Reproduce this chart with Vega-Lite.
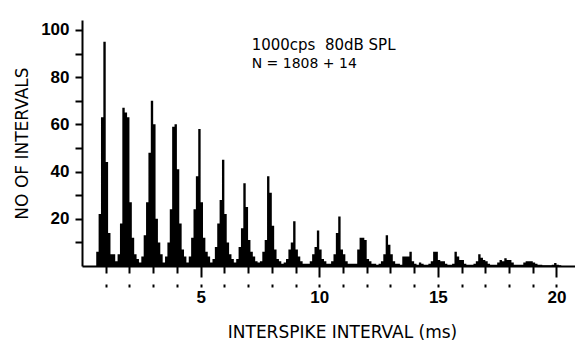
{
  "$schema": "https://vega.github.io/schema/vega-lite/v6.json",
  "width": 493,
  "height": 246,
  "autosize": {"type": "none"},
  "padding": {"left": 82, "top": 20, "right": 0, "bottom": 76},
  "background": "white",
  "config": {
    "view": {"stroke": null},
    "axis": {
      "grid": false,
      "domainColor": "black",
      "domainWidth": 2,
      "tickColor": "black",
      "tickWidth": 2,
      "labelColor": "black",
      "titleColor": "black",
      "labelFont": "Liberation Sans",
      "labelFontWeight": "bold",
      "labelFontSize": 17,
      "labelOverlap": false,
      "titleFont": "DejaVu Sans",
      "titleFontWeight": "normal",
      "titleFontSize": 17
    }
  },
  "data": {
    "values": [
      {"t": 0, "n": 0}, {"t": 0.6, "n": 6}, {"t": 0.7, "n": 22}, {"t": 0.8, "n": 63}, {"t": 0.9, "n": 95},
      {"t": 1.0, "n": 44}, {"t": 1.1, "n": 14}, {"t": 1.2, "n": 5}, {"t": 1.3, "n": 5}, {"t": 1.4, "n": 2},
      {"t": 1.5, "n": 5}, {"t": 1.6, "n": 18}, {"t": 1.7, "n": 67}, {"t": 1.8, "n": 65}, {"t": 1.9, "n": 63},
      {"t": 2.0, "n": 27}, {"t": 2.1, "n": 12}, {"t": 2.2, "n": 5}, {"t": 2.3, "n": 3}, {"t": 2.4, "n": 1.5},
      {"t": 2.5, "n": 4}, {"t": 2.6, "n": 13}, {"t": 2.7, "n": 27}, {"t": 2.8, "n": 48}, {"t": 2.9, "n": 70},
      {"t": 3.0, "n": 60}, {"t": 3.1, "n": 20}, {"t": 3.2, "n": 10}, {"t": 3.3, "n": 5}, {"t": 3.4, "n": 1.5},
      {"t": 3.5, "n": 4}, {"t": 3.6, "n": 10}, {"t": 3.7, "n": 24}, {"t": 3.8, "n": 59}, {"t": 3.9, "n": 60},
      {"t": 4.0, "n": 41}, {"t": 4.1, "n": 18}, {"t": 4.2, "n": 7}, {"t": 4.3, "n": 4}, {"t": 4.4, "n": 1.5},
      {"t": 4.5, "n": 4}, {"t": 4.6, "n": 12}, {"t": 4.7, "n": 24}, {"t": 4.8, "n": 38}, {"t": 4.9, "n": 58},
      {"t": 5.0, "n": 27}, {"t": 5.1, "n": 12}, {"t": 5.2, "n": 6}, {"t": 5.3, "n": 4}, {"t": 5.4, "n": 1.5},
      {"t": 5.5, "n": 3}, {"t": 5.6, "n": 8}, {"t": 5.7, "n": 18}, {"t": 5.8, "n": 28}, {"t": 5.9, "n": 45},
      {"t": 6.0, "n": 22}, {"t": 6.1, "n": 10}, {"t": 6.2, "n": 5}, {"t": 6.3, "n": 3}, {"t": 6.4, "n": 1.5},
      {"t": 6.5, "n": 3}, {"t": 6.6, "n": 8}, {"t": 6.7, "n": 16}, {"t": 6.8, "n": 35}, {"t": 6.9, "n": 25},
      {"t": 7.0, "n": 11}, {"t": 7.1, "n": 6}, {"t": 7.2, "n": 4}, {"t": 7.3, "n": 2}, {"t": 7.4, "n": 1.5},
      {"t": 7.5, "n": 2}, {"t": 7.6, "n": 6}, {"t": 7.7, "n": 11}, {"t": 7.8, "n": 38}, {"t": 7.9, "n": 31},
      {"t": 8.0, "n": 17}, {"t": 8.1, "n": 7}, {"t": 8.2, "n": 3}, {"t": 8.3, "n": 2}, {"t": 8.4, "n": 1},
      {"t": 8.5, "n": 1.5}, {"t": 8.6, "n": 3}, {"t": 8.7, "n": 7}, {"t": 8.8, "n": 10}, {"t": 8.9, "n": 19},
      {"t": 9.0, "n": 7}, {"t": 9.1, "n": 4}, {"t": 9.2, "n": 2}, {"t": 9.3, "n": 1}, {"t": 9.4, "n": 1},
      {"t": 9.5, "n": 1}, {"t": 9.6, "n": 2}, {"t": 9.7, "n": 5}, {"t": 9.8, "n": 8}, {"t": 9.9, "n": 15},
      {"t": 10.0, "n": 7}, {"t": 10.1, "n": 3}, {"t": 10.2, "n": 2}, {"t": 10.3, "n": 1}, {"t": 10.4, "n": 1},
      {"t": 10.5, "n": 2}, {"t": 10.6, "n": 5}, {"t": 10.7, "n": 14}, {"t": 10.8, "n": 21}, {"t": 10.9, "n": 7},
      {"t": 11.0, "n": 5}, {"t": 11.1, "n": 2}, {"t": 11.2, "n": 1}, {"t": 11.3, "n": 1}, {"t": 11.4, "n": 1},
      {"t": 11.5, "n": 1}, {"t": 11.6, "n": 7}, {"t": 11.7, "n": 12}, {"t": 11.8, "n": 12}, {"t": 11.9, "n": 11},
      {"t": 12.0, "n": 3}, {"t": 12.1, "n": 2}, {"t": 12.2, "n": 1}, {"t": 12.3, "n": 1}, {"t": 12.4, "n": 0.5},
      {"t": 12.5, "n": 1}, {"t": 12.6, "n": 2}, {"t": 12.7, "n": 5}, {"t": 12.8, "n": 13}, {"t": 12.9, "n": 9},
      {"t": 13.0, "n": 5}, {"t": 13.1, "n": 2}, {"t": 13.2, "n": 1}, {"t": 13.3, "n": 1}, {"t": 13.4, "n": 0.5},
      {"t": 13.5, "n": 4}, {"t": 13.6, "n": 4}, {"t": 13.7, "n": 4}, {"t": 13.8, "n": 6}, {"t": 13.9, "n": 2},
      {"t": 14.0, "n": 1}, {"t": 14.1, "n": 0.5}, {"t": 14.2, "n": 1.5}, {"t": 14.3, "n": 1}, {"t": 14.4, "n": 0.5},
      {"t": 14.5, "n": 0.5}, {"t": 14.6, "n": 1}, {"t": 14.7, "n": 2}, {"t": 14.8, "n": 6}, {"t": 14.9, "n": 6},
      {"t": 15.0, "n": 2.5}, {"t": 15.1, "n": 2}, {"t": 15.2, "n": 2}, {"t": 15.3, "n": 1}, {"t": 15.4, "n": 0.5},
      {"t": 15.5, "n": 0.5}, {"t": 15.6, "n": 1}, {"t": 15.7, "n": 6}, {"t": 15.8, "n": 4}, {"t": 15.9, "n": 2.5},
      {"t": 16.0, "n": 2.5}, {"t": 16.1, "n": 1}, {"t": 16.2, "n": 0.5}, {"t": 16.3, "n": 0.5}, {"t": 16.4, "n": 0.5},
      {"t": 16.5, "n": 1}, {"t": 16.6, "n": 2}, {"t": 16.7, "n": 5}, {"t": 16.8, "n": 3.5}, {"t": 16.9, "n": 2.5},
      {"t": 17.0, "n": 2}, {"t": 17.1, "n": 1}, {"t": 17.2, "n": 0.5}, {"t": 17.3, "n": 0.5}, {"t": 17.4, "n": 0.5},
      {"t": 17.5, "n": 1.5}, {"t": 17.6, "n": 2.5}, {"t": 17.7, "n": 2}, {"t": 17.8, "n": 3.3}, {"t": 17.9, "n": 2.5},
      {"t": 18.0, "n": 2.5}, {"t": 18.1, "n": 1.5}, {"t": 18.2, "n": 0.5}, {"t": 18.3, "n": 0.5}, {"t": 18.4, "n": 0.5},
      {"t": 18.5, "n": 0.5}, {"t": 18.6, "n": 1.5}, {"t": 18.7, "n": 2}, {"t": 18.8, "n": 2}, {"t": 18.9, "n": 2},
      {"t": 19.0, "n": 1.5}, {"t": 19.1, "n": 1}, {"t": 19.2, "n": 0.5}, {"t": 19.3, "n": 0.5}, {"t": 19.4, "n": 0.3},
      {"t": 19.5, "n": 0.3}, {"t": 19.6, "n": 0.3}, {"t": 19.7, "n": 0.3}, {"t": 19.8, "n": 0.5}, {"t": 19.9, "n": 1.3},
      {"t": 20.0, "n": 0.5}, {"t": 20.1, "n": 0.3}, {"t": 20.2, "n": 0}
    ]
  },
  "layer": [
    {
      "mark": {"type": "area", "interpolate": "step-after", "color": "black"},
      "encoding": {
        "x": {
          "field": "t",
          "type": "quantitative",
          "scale": {"domain": [0, 20.78], "nice": false, "zero": false},
          "axis": {
            "title": "INTERSPIKE INTERVAL (ms)",
            "values": [1, 2, 3, 4, 5, 6, 7, 8, 9, 10, 11, 12, 13, 14, 15, 16, 17, 18, 19, 20],
            "tickCount": 100,
            "format": "d",
            "tickSize": 21,
            "tickDash": {"condition": {"test": "datum.value % 5 === 0", "value": [11, 7, 3]}, "value": [7, 11, 3]},
            "labelExpr": "datum.value % 5 === 0 ? datum.label : ''",
            "labelPadding": 2,
            "labelBaseline": "top",
            "labelFlush": false,
            "labelOverlap": false,
            "titlePadding": 19,
            "titleX": 260,
            "titleAlign": "center"
          }
        },
        "y": {
          "field": "n",
          "type": "quantitative",
          "stack": null,
          "scale": {"domain": [0, 104.2], "nice": false},
          "axis": {
            "title": "NO OF INTERVALS",
            "values": [10, 20, 30, 40, 50, 60, 70, 80, 90, 100],
            "tickCount": 100,
            "format": "d",
            "labelExpr": "datum.value % 20 === 0 ? datum.label : ''",
            "tickSize": 7,
            "labelPadding": 6,
            "labelOverlap": false,
            "titlePadding": 9
          }
        }
      }
    },
    {
      "data": {"values": [{}]},
      "mark": {"type": "text", "align": "left", "baseline": "middle", "font": "DejaVu Sans", "fontSize": 15, "color": "black"},
      "encoding": {
        "x": {"datum": 7.15, "type": "quantitative"},
        "y": {"datum": 93.4, "type": "quantitative"},
        "text": {"value": "1000cps\u00a0 80dB SPL"}
      }
    },
    {
      "data": {"values": [{}]},
      "mark": {"type": "text", "align": "left", "baseline": "middle", "font": "DejaVu Sans", "fontSize": 14, "color": "black"},
      "encoding": {
        "x": {"datum": 7.15, "type": "quantitative"},
        "y": {"datum": 85.5, "type": "quantitative"},
        "text": {"value": "N = 1808 + 14"}
      }
    }
  ]
}
